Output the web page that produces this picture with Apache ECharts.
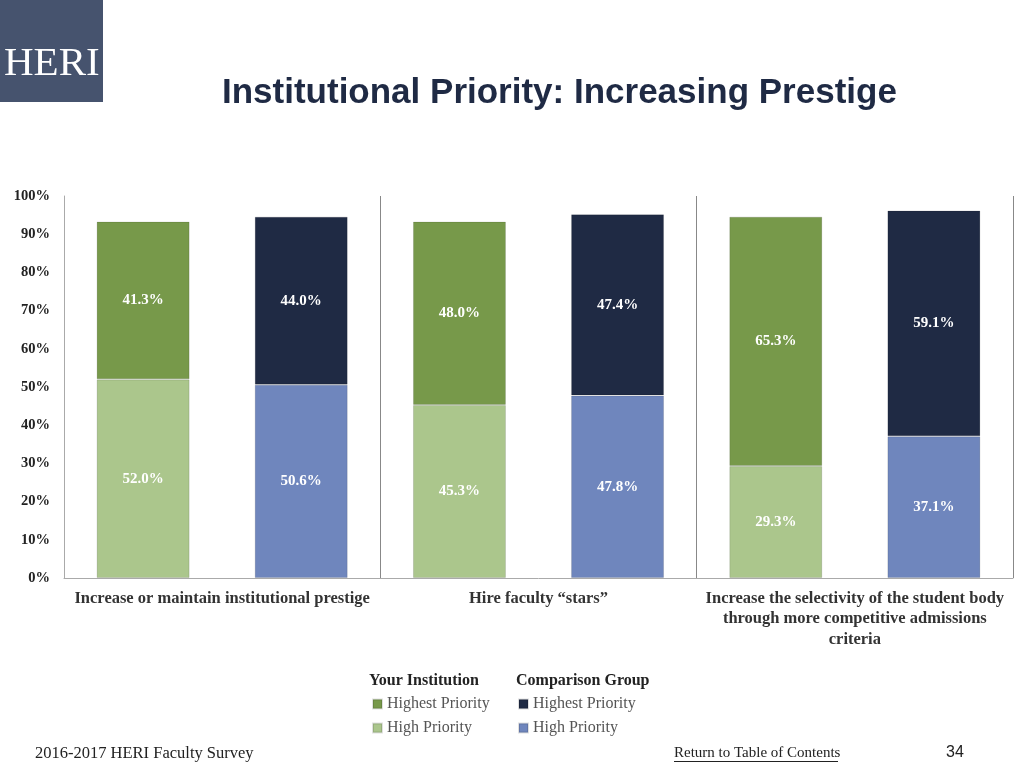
<!DOCTYPE html>
<html>
<head>
<meta charset="utf-8">
<script src="https://cdn.jsdelivr.net/npm/echarts@6/dist/echarts.min.js"></script>
<style>
html,body{margin:0;padding:0;background:#fff;}
#chart{width:1024px;height:768px;}
</style>
</head>
<body>
<div id="chart"></div>
<script>
const categories = ['Increase or maintain institutional prestige', 'Hire faculty \u201cstars\u201d', 'Increase the selectivity of the student body\nthrough more competitive admissions\ncriteria'];
const instHigh = [52.0, 45.3, 29.3];
const instHighest = [41.3, 48.0, 65.3];
const compHigh = [50.6, 47.8, 37.1];
const compHighest = [44.0, 47.4, 59.1];
const yTicks = [0, 10, 20, 30, 40, 50, 60, 70, 80, 90, 100];

const serif = '"Liberation Serif", "DejaVu Serif", serif';
const colors = {instHighest:'#77994a', instHigh:'#abc68c', compHighest:'#1f2a44', compHigh:'#6f86bd'};

function mk(name, data, stack, color){
  return {
    name, type:'bar', stack, data, barWidth:93, barGap:'70%',
    itemStyle:{color, borderColor:'rgba(0,0,0,0.12)', borderWidth:1},
    label:{show:true, position:'inside', color:'#fff', fontFamily:serif, fontWeight:'bold', fontSize:15,
      formatter:p=>p.value.toFixed(1)+'%'}
  };
}

const chart = echarts.init(document.getElementById('chart'));
chart.setOption({
  animation:false,
  backgroundColor:'#fff',
  grid:{left:64, right:11, top:196, bottom:190},
  xAxis:{type:'category', data:categories,
    axisLine:{show:true, lineStyle:{color:'#aaa'}},
    axisTick:{show:false},
    splitLine:{show:true, lineStyle:{color:'#888', width:1}},
    axisLabel:{interval:0, color:'#333', fontFamily:serif, fontWeight:'bold', fontSize:16.5, lineHeight:20.5, margin:10}
  },
  yAxis:{type:'value', min:0, max:100, interval:10,
    axisLine:{show:true, lineStyle:{color:'#aaa'}},
    axisTick:{show:false},
    splitLine:{show:false},
    axisLabel:{color:'#222', fontFamily:serif, fontWeight:'bold', fontSize:14.5, margin:14,
      formatter:v=> yTicks.indexOf(v)>=0 ? v+'%' : ''}
  },
  legend:[
    {data:['Highest Priority ','High Priority '], orient:'vertical', left:367, top:690, itemWidth:9, itemHeight:9, itemGap:6,
     icon:'rect', textStyle:{color:'#555', fontFamily:serif, fontSize:16, lineHeight:18}, selectedMode:false},
    {data:['Highest Priority','High Priority'], orient:'vertical', left:513, top:690, itemWidth:9, itemHeight:9, itemGap:6,
     icon:'rect', textStyle:{color:'#555', fontFamily:serif, fontSize:16, lineHeight:18}, selectedMode:false}
  ],
  series:[
    mk('High Priority ', instHigh, 'inst', colors.instHigh),
    mk('Highest Priority ', instHighest, 'inst', colors.instHighest),
    mk('High Priority', compHigh, 'comp', colors.compHigh),
    mk('Highest Priority', compHighest, 'comp', colors.compHighest)
  ],
  graphic:[
    {type:'rect', shape:{x:0,y:0,width:103,height:102}, style:{fill:'#46536e'}},
    {type:'text', left:4, top:44, style:{text:'HERI', fill:'#fff', font:'41px "Liberation Serif", serif'}},
    {type:'text', left:222, top:76, style:{text:'Institutional Priority: Increasing Prestige', fill:'#1f2a44', font:'bold 35px "Liberation Sans", sans-serif'}},
    {type:'text', left:369, top:673, style:{text:'Your Institution', fill:'#222', font:'bold 16px "Liberation Serif", serif'}},
    {type:'text', left:516, top:673, style:{text:'Comparison Group', fill:'#222', font:'bold 16px "Liberation Serif", serif'}},
    {type:'text', left:35, top:745, style:{text:'2016-2017 HERI Faculty Survey', fill:'#222', font:'16.5px "Liberation Serif", serif'}},
    {type:'text', left:674, top:746, style:{text:'Return to Table of Contents', fill:'#222', font:'15px "Liberation Serif", serif'}},
    {type:'rect', shape:{x:674,y:761,width:164,height:1}, style:{fill:'#222'}},
    {type:'text', left:946, top:745, style:{text:'34', fill:'#222', font:'16px "Liberation Sans", sans-serif'}}
  ]
});
</script>
</body>
</html>
